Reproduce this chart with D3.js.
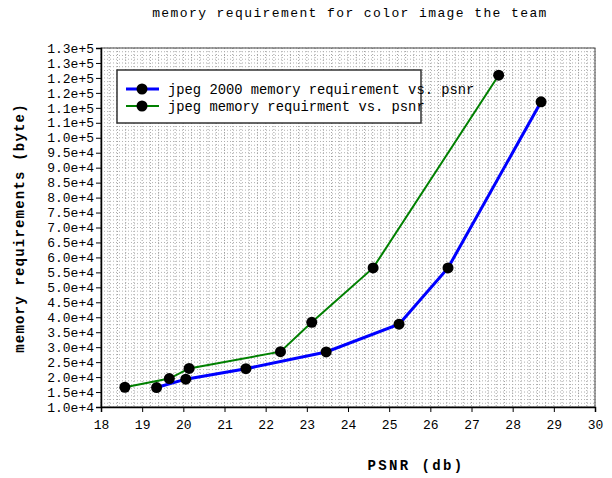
<!DOCTYPE html>
<html>
<head>
<meta charset="utf-8">
<script src="https://cdn.jsdelivr.net/npm/d3@7"></script>
<style>
  body { margin: 0; background: #fff; }
  svg text { font-family: "Liberation Mono", "Courier New", Courier, "DejaVu Sans Mono", monospace !important; fill: #000; }
</style>
</head>
<body>
<svg id="chart" width="612" height="478"></svg>
<script>
// psnr (db) and memory (byte)
var j2kPsnr = [19.35, 20.06, 21.52, 23.47, 25.24, 26.43, 28.69];
var j2kMem = [16500, 19300, 22800, 28400, 37700, 56500, 112000];
var jpegPsnr = [18.58, 19.66, 20.14, 22.36, 23.12, 24.61, 27.66];
var jpegMem = [16600, 19500, 22900, 28500, 38300, 56500, 120900];

var xTicks = [18, 19, 20, 21, 22, 23, 24, 25, 26, 27, 28, 29, 30];
var yTicks = d3.range(10000, 130001, 5000);
var yTickLabels = ["1.0e+4", "1.5e+4", "2.0e+4", "2.5e+4", "3.0e+4", "3.5e+4", "4.0e+4",
    "4.5e+4", "5.0e+4", "5.5e+4", "6.0e+4", "6.5e+4", "7.0e+4", "7.5e+4", "8.0e+4",
    "8.5e+4", "9.0e+4", "9.5e+4", "1.0e+5", "1.1e+5", "1.1e+5", "1.2e+5", "1.2e+5",
    "1.3e+5", "1.3e+5"];

var seriesNames = ["jpeg 2000 memory requirement vs. psnr", "jpeg memory requirment vs. psnr"];
var seriesColors = ["#0000ff", "#008000"];

var mono = "Liberation Mono";
var svg = d3.select("#chart");

var x = d3.scaleLinear().domain([18, 30]).range([101, 595]);
var y = d3.scaleLinear().domain([10000, 130000]).range([407, 48]);

// dotted grid
var grid = svg.append("g");
grid.selectAll(".vg")
    .data(d3.range(18, 30.001, 0.2))
    .enter().append("line")
    .attr("x1", d => x(d)).attr("x2", d => x(d))
    .attr("y1", y(130000)).attr("y2", y(10000))
    .attr("stroke", "#a0a0a0")
    .attr("stroke-width", 1)
    .attr("stroke-dasharray", "1,2");
grid.selectAll(".hg")
    .data(d3.range(10000, 130001, 1250))
    .enter().append("line")
    .attr("x1", x(18)).attr("x2", x(30))
    .attr("y1", d => y(d)).attr("y2", d => y(d))
    .attr("stroke", "#b0b0b0")
    .attr("stroke-width", 1)
    .attr("stroke-dasharray", "1,2");

// frame
svg.append("rect")
    .attr("x", x(18)).attr("y", y(130000))
    .attr("width", x(30) - x(18)).attr("height", y(10000) - y(130000))
    .attr("fill", "none").attr("stroke", "#444").attr("stroke-width", 1);

// axes
var xAxis = svg.append("g")
    .attr("transform", "translate(0," + y(10000) + ")")
    .call(d3.axisBottom(x).tickValues(xTicks).tickSize(5).tickPadding(8));
var yAxis = svg.append("g")
    .attr("transform", "translate(" + x(18) + ",0)")
    .call(d3.axisLeft(y).tickValues(yTicks).tickSize(5).tickPadding(2)
        .tickFormat((d, i) => yTickLabels[i]));
svg.selectAll(".tick text").attr("font-size", "13px").attr("font-family", mono);
svg.selectAll(".domain").attr("stroke", "#000").attr("stroke-width", 1.5);
svg.selectAll(".tick line").attr("stroke", "#000");

// lines and markers
var series = [
    { psnr: j2kPsnr, mem: j2kMem, width: 3 },
    { psnr: jpegPsnr, mem: jpegMem, width: 2 }
];
var line = d3.line().x(d => x(d[0])).y(d => y(d[1]));

series.forEach(function (s, i) {
    var pts = s.psnr.map((p, k) => [p, s.mem[k]]);
    svg.append("path")
        .datum(pts)
        .attr("d", line)
        .attr("fill", "none")
        .attr("stroke", seriesColors[i])
        .attr("stroke-width", s.width);
    svg.selectAll(".pt" + i)
        .data(pts)
        .enter().append("circle")
        .attr("cx", d => x(d[0]))
        .attr("cy", d => y(d[1]))
        .attr("r", 5.5)
        .attr("fill", "#000");
});

// legend
var lg = svg.append("g");
lg.append("rect")
    .attr("x", 117).attr("y", 70)
    .attr("width", 304).attr("height", 53)
    .attr("fill", "#fff").attr("stroke", "#333").attr("stroke-width", 1.5);
seriesNames.forEach(function (name, i) {
    var ly = 89 + i * 17;
    lg.append("line")
        .attr("x1", 126).attr("x2", 159)
        .attr("y1", ly).attr("y2", ly)
        .attr("stroke", seriesColors[i])
        .attr("stroke-width", series[i].width);
    lg.append("circle").attr("cx", 142).attr("cy", ly).attr("r", 5.5).attr("fill", "#000");
    lg.append("text")
        .attr("x", 168).attr("y", ly + 4.5)
        .attr("font-family", mono)
        .attr("font-size", "13.8px")
        .text(name);
});

// titles
svg.append("text")
    .attr("x", 350).attr("y", 17)
    .attr("text-anchor", "middle")
    .attr("font-family", mono)
    .attr("font-size", "13px")
    .attr("letter-spacing", "1.4px")
    .text("memory requirement for color image the team");

svg.append("text")
    .attr("transform", "translate(24,228) rotate(-90)")
    .attr("text-anchor", "middle")
    .attr("font-family", mono)
    .attr("font-size", "14px")
    .attr("font-weight", "bold")
    .attr("letter-spacing", "1.2px")
    .text("memory requirements (byte)");

svg.append("text")
    .attr("x", 416).attr("y", 470)
    .attr("text-anchor", "middle")
    .attr("font-family", mono)
    .attr("font-size", "14px")
    .attr("font-weight", "bold")
    .attr("letter-spacing", "2.4px")
    .text("PSNR (db)");
</script>
</body>
</html>
